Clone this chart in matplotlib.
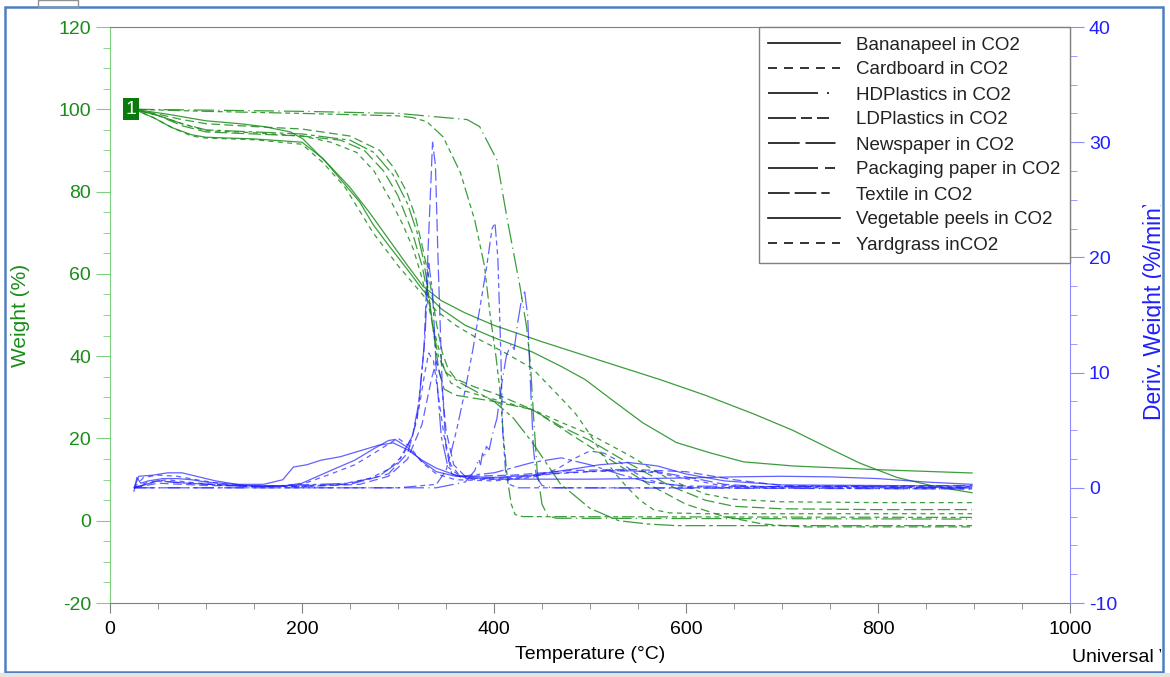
import matplotlib.pyplot as plt
from matplotlib.lines import Line2D
from matplotlib.patches import Rectangle
from matplotlib.ticker import MultipleLocator
from matplotlib.transforms import Bbox

plt.rcParams['font.family'] = ['Liberation Sans', 'DejaVu Sans']
plt.rcParams['axes.unicode_minus'] = False

names = ['Bananapeel in CO2', 'Cardboard in CO2', 'HDPlastics in CO2', 'LDPlastics in CO2',
         'Newspaper in CO2', 'Packaging paper in CO2', 'Textile in CO2',
         'Vegetable peels in CO2', 'Yardgrass inCO2']

# ---- weight (%) vs temperature (C)
banana_t = [25, 60, 100, 135, 160, 188, 201, 215, 230, 250, 270, 290, 310, 326, 345, 370, 400,
            450, 490, 530, 573, 620, 670, 711, 750, 781, 820, 860, 898]
banana_w = [100, 98.8, 97.2, 96.5, 95.8, 94.5, 92.8, 89.5, 86, 81, 75, 68.5, 62, 57, 53.5, 50.5,
            47.5, 43.5, 40.5, 37.5, 34.3, 30.5, 26, 22, 17.5, 14, 10.5, 8.3, 6.8]

card_t = [25, 50, 75, 100, 150, 200, 230, 257, 275, 292, 305, 316, 325, 332, 340, 348, 355, 370,
          400, 440, 469, 500, 540, 583, 620, 650, 700, 800, 898]
card_w = [100, 98.5, 96.5, 94.8, 94.3, 93.5, 92, 89.5, 85, 78, 72, 66, 59, 52, 44, 37, 33.5, 31.5,
          29.5, 27, 24, 21, 16, 10, 6.5, 5.2, 4.6, 4.4, 4.4]

hdpe_t = [25, 100, 200, 300, 372, 385, 403, 414, 427, 434, 438, 441, 445, 450, 456, 465, 898]
hdpe_w = [100, 99.8, 99.5, 99, 97.5, 95.8, 87.7, 73, 57, 47, 38, 26, 12, 4, 1.2, 0.6, 0.4]

ldpe_t = [25, 100, 200, 300, 315, 330, 347, 365, 380, 390, 396, 402, 406, 410, 414, 418, 422, 430, 898]
ldpe_w = [100, 99.5, 99, 98.4, 98, 97, 93.3, 84.6, 73, 62, 50, 40, 32, 20, 10, 4, 1.5, 1.0, 0.8]

news_t = [25, 50, 75, 100, 150, 200, 240, 265, 285, 300, 315, 325, 332, 338, 343, 348, 360, 400,
          440, 469, 500, 540, 583, 620, 650, 700, 800, 898]
news_w = [100, 98.5, 96, 94.5, 94, 93.5, 92.5, 90, 85, 79, 70, 62, 54, 44, 36, 32, 30.5, 29,
          27, 23, 19.5, 14, 8.5, 5, 3.5, 2.9, 2.7, 2.7]

pack_t = [25, 50, 75, 100, 150, 200, 250, 275, 295, 310, 320, 327, 332, 337, 342, 350, 365, 400,
          420, 440, 469, 500, 530, 560, 590, 700, 898]
pack_w = [100, 98.5, 96.5, 95, 94.5, 94, 92.5, 89.5, 84, 77, 70, 63, 55, 46, 40, 36, 33.5, 29,
          25, 19, 9, 3, 0, -0.8, -1.2, -1.2, -1.2]

text_t = [25, 50, 75, 100, 150, 200, 250, 281, 295, 309, 318, 326, 334, 340, 346, 352, 360, 380,
          400, 440, 480, 520, 560, 600, 640, 680, 720, 898]
text_w = [100, 98.8, 97.5, 96.5, 95.8, 95.2, 93.5, 90, 86, 80, 74, 66, 57, 48, 41, 37, 34.5, 32.5,
          31, 27, 21, 15, 9, 4, 1, -0.8, -1.5, -1.5]

veg_t = [25, 45, 65, 85, 100, 150, 200, 222, 240, 260, 274, 290, 310, 326, 345, 370, 400, 440,
         470, 495, 525, 555, 590, 625, 660, 712, 800, 898]
veg_w = [100, 98, 95.5, 93.8, 93.2, 92.8, 92, 88, 83, 77.5, 72, 67, 61, 56, 51.5, 47.5, 44.5, 41,
         37.5, 34.3, 29, 23.8, 19, 16.5, 14.3, 13.3, 12.4, 11.6]

yard_t = [25, 45, 65, 85, 100, 150, 200, 222, 245, 274, 300, 320, 340, 360, 385, 410, 440, 469,
          485, 497, 508, 518, 528, 538, 552, 566, 583, 620, 898]
yard_w = [100, 98, 95.5, 93.5, 93, 92.6, 91.5, 87, 81, 70, 62, 56.5, 51, 47.5, 44, 41, 37, 30,
          26, 22, 18, 14, 11, 8.3, 5, 2.7, 1.9, 1.7, 1.7]

# ---- derivative weight (%/min) vs temperature (C)
banana_dt = [25, 28, 32, 40, 55, 70, 85, 100, 130, 160, 180, 191, 205, 220, 240, 260, 280, 295,
             310, 325, 340, 360, 380, 400, 450, 500, 550, 600, 650, 700, 750, 800, 850, 898]
banana_d = [-0.3, 0.9, 0.4, 0.6, 0.8, 0.8, 0.7, 0.5, 0.3, 0.3, 0.7, 1.8, 2.0, 2.4, 2.7, 3.2, 3.7,
            3.9, 3.3, 2.4, 1.7, 1.1, 0.85, 0.75, 0.75, 0.75, 0.8, 0.85, 0.95, 1.0, 0.95, 0.8, 0.5, 0.3]

card_dt = [25, 40, 60, 80, 120, 200, 240, 270, 290, 305, 315, 322, 328, 332, 337, 342, 348, 355,
           365, 380, 420, 460, 500, 540, 570, 600, 630, 660, 898]
card_d = [0, 0.5, 0.7, 0.5, 0.2, 0.1, 0.3, 0.8, 1.6, 2.8, 4.5, 7.0, 10.0, 11.7, 11.0, 8.0, 4.5, 2.0,
          1.0, 0.7, 0.8, 1.2, 1.4, 1.5, 1.3, 0.8, 0.3, 0.1, 0.1]

hdpe_dt = [25, 200, 340, 370, 380, 384, 386, 388, 390, 392, 395, 398, 403, 408, 413, 418, 421,
           425, 429, 432, 435, 438, 441, 444, 450, 460, 898]
hdpe_d = [0, 0, 0, 0.5, 1.5, 2.5, 2.0, 3.0, 2.6, 3.6, 3.3, 4.5, 6.0, 9.0, 11.5, 12.5, 12.0,
          14.5, 16.5, 17.0, 15.0, 9.0, 3.5, 1.0, 0.2, 0, -0.1]

ldpe_dt = [25, 200, 300, 340, 350, 355, 361, 370, 378, 385, 392, 398, 401, 404, 407, 409, 412,
           416, 425, 898]
ldpe_d = [0, 0, 0, 0.3, 1.5, 3.0, 5.0, 8.5, 12.0, 15.5, 19.0, 22.5, 23.0, 20.0, 12.0, 5.0, 1.5,
          0.3, 0, 0]

news_dt = [25, 50, 80, 150, 250, 290, 310, 320, 327, 332, 336, 339, 342, 346, 350, 356, 370, 420,
           470, 520, 570, 610, 640, 680, 898]
news_d = [0, 0.6, 0.4, 0.1, 0.3, 1.2, 3.0, 6.0, 12.0, 22.0, 30.0, 28.0, 19.0, 9.0, 3.5, 1.2, 0.8,
          0.9, 1.3, 1.5, 1.4, 0.8, 0.3, 0.1, 0.2]

pack_dt = [25, 50, 80, 150, 250, 280, 300, 315, 322, 328, 332, 336, 340, 345, 352, 365, 400, 440,
           470, 500, 530, 560, 600, 898]
pack_d = [0, 0.6, 0.4, 0.1, 0.4, 1.0, 2.2, 4.5, 7.5, 13.0, 19.5, 17.0, 10.0, 4.5, 1.8, 1.0, 1.3,
          2.2, 2.6, 2.0, 1.2, 0.5, 0.15, 0.0]

text_dt = [25, 50, 100, 200, 260, 290, 310, 325, 335, 340, 345, 350, 358, 370, 420, 480, 540, 600,
           650, 700, 898]
text_d = [0, 0.4, 0.2, 0.1, 0.3, 1.0, 2.5, 5.5, 9.5, 11.0, 9.5, 5.0, 2.0, 1.0, 1.1, 1.5, 1.6, 1.4,
          0.7, 0.2, 0.0]

veg_dt = [25, 30, 45, 60, 75, 90, 110, 140, 180, 200, 230, 255, 275, 290, 297, 310, 325, 340, 360,
          400, 440, 480, 510, 540, 570, 600, 640, 700, 800, 898]
veg_d = [0, 1.0, 1.1, 1.3, 1.3, 1.0, 0.6, 0.2, 0.15, 0.4, 1.5, 2.4, 3.4, 4.1, 4.2, 3.5, 2.3, 1.4,
         1.0, 0.9, 1.1, 1.6, 2.0, 2.2, 1.9, 1.2, 0.6, 0.25, 0.2, 0.15]

yard_dt = [25, 35, 50, 70, 90, 120, 160, 200, 230, 255, 275, 290, 300, 312, 325, 340, 360, 400,
           440, 465, 485, 500, 515, 530, 545, 560, 580, 600, 650, 898]
yard_d = [0, 0.9, 1.1, 1.0, 0.7, 0.3, 0.1, 0.3, 1.2, 2.0, 3.0, 3.8, 4.3, 3.6, 2.2, 1.2, 0.7, 0.6,
          0.9, 1.6, 2.6, 3.2, 3.0, 2.3, 1.4, 0.7, 0.3, 0.1, 0.0, -0.1]

weights = [(banana_t, banana_w), (card_t, card_w), (hdpe_t, hdpe_w), (ldpe_t, ldpe_w),
           (news_t, news_w), (pack_t, pack_w), (text_t, text_w), (veg_t, veg_w), (yard_t, yard_w)]
derivs = [(banana_dt, banana_d), (card_dt, card_d), (hdpe_dt, hdpe_d), (ldpe_dt, ldpe_d),
          (news_dt, news_d), (pack_dt, pack_d), (text_dt, text_d), (veg_dt, veg_d), (yard_dt, yard_d)]

# dash pattern per sample for the curves
dashes = ['-', (0, (4, 3.5)), (0, (16, 3.5, 1, 3.5)), (0, (10, 3, 4, 3, 4, 3)), (0, (10, 3.5)),
          (0, (16, 3, 3, 3)), (0, (7, 3.5)), '-', (0, (4, 3.5))]
# the legend samples show one long cycle of each pattern
key_dashes = ['-', (0, (5.4, 4.2)), (0, (30, 5.4, 1.2, 25)), (0, (16.8, 3, 6.6, 3, 7.2, 25)),
              (0, (19, 3.5, 18, 25)), (0, (30, 4.2, 6, 25)), (0, (13, 3, 13, 3, 5, 25)), '-',
              (0, (5.4, 4.2))]

green = '#1a8c1a'
blue = '#1f1fff'

fig = plt.figure(figsize=(11.7, 6.77), dpi=100)
ax = fig.add_axes([110 / 1170, 1 - 603 / 677, 960 / 1170, 576 / 677])
ax2 = ax.twinx()

for (t, w), ls in zip(weights, dashes):
    ax.plot(t, w, color=green, lw=0.9, ls=ls, alpha=0.85)
for (t, d), ls in zip(derivs, dashes):
    ax2.plot(t, d, color=blue, lw=0.9, ls=ls, alpha=0.7)

ax.set_xlim(0, 1000)
ax.set_ylim(-20, 120)
ax2.set_ylim(-10, 40)

# axis ticks
ax.xaxis.set_major_locator(MultipleLocator(200))
ax.xaxis.set_minor_locator(MultipleLocator(50))
ax.yaxis.set_major_locator(MultipleLocator(20))
ax.yaxis.set_minor_locator(MultipleLocator(5))
ax2.yaxis.set_major_locator(MultipleLocator(10))
ax2.yaxis.set_minor_locator(MultipleLocator(2.5))

ax.tick_params(axis='x', which='major', length=7, color='#808080', labelsize=14, pad=6)
ax.tick_params(axis='x', which='minor', length=4, color='#808080')
ax.tick_params(axis='y', which='major', length=10, color='#7fcf7f', labelcolor=green, labelsize=14)
ax.tick_params(axis='y', which='minor', length=5, color='#7fcf7f')
ax2.tick_params(axis='y', which='major', length=10, color='#8c8cff', labelcolor=blue, labelsize=14)
ax2.tick_params(axis='y', which='minor', length=5, color='#8c8cff')

ax.spines['left'].set_color('#7fcf7f')
ax.spines['right'].set_visible(False)
for s in ['top', 'bottom']:
    ax.spines[s].set_color('#808080')
for s in ['left', 'top', 'bottom']:
    ax2.spines[s].set_visible(False)
ax2.spines['right'].set_color('#8c8cff')

ax.set_xlabel('Temperature (°C)', fontsize=14)
ax.xaxis.set_label_coords(0.5, -0.075)
ax.set_ylabel('Weight (%)', fontsize=15, color=green)
ax.yaxis.set_label_coords(-0.083, 0.5)

# run marker at start of curves
ax.text(22, 100, '1', color='white', fontsize=14, ha='center', va='center',
        bbox=dict(boxstyle='square,pad=0.12', fc='#0a7a0a', ec='none'))

# legend with black line samples
handles = [Line2D([], [], color='#111111', lw=1.2, ls=ls) for ls in key_dashes]
leg = ax2.legend(handles, names, loc='upper right', bbox_to_anchor=(1, 1), borderaxespad=0,
                 fontsize=13.5, handlelength=3.85, handletextpad=0.85, labelspacing=0.42,
                 borderpad=0.5, fancybox=False, framealpha=1, edgecolor='#808080')
leg.get_frame().set_linewidth(1)
for txt in leg.get_texts():
    txt.set_color('#222222')

# right axis title and instrument tag, cut off by the window frame
rlab = fig.text(1155 / 1170, 1 - 420 / 677, 'Deriv. Weight (%/min)', rotation=90, color=blue,
                fontsize=16.5, ha='center', va='bottom')
rlab.set_clip_box(Bbox.from_extents(0, 0, 1161, 677 - 205))
rlab.set_clip_on(True)
tag = fig.text(1072 / 1170, 1 - 657 / 677, 'Universal V', fontsize=14, ha='left', va='center')
tag.set_clip_box(Bbox.from_extents(0, 0, 1161, 677))
tag.set_clip_on(True)

# window frame
fig.add_artist(Rectangle((5 / 1170, 5 / 677), 1158 / 1170, 665 / 677, transform=fig.transFigure,
                         fill=False, ec='#4f7fbf', lw=1.8))
fig.add_artist(Rectangle((0, 0), 1, 4 / 677, transform=fig.transFigure, fc='#e4e4e4', ec='none'))
fig.add_artist(Rectangle((38 / 1170, 670 / 677), 40 / 1170, 7 / 677, transform=fig.transFigure,
                         fill=False, ec='#909090', lw=1))

fig.savefig('out.png', dpi=100)
